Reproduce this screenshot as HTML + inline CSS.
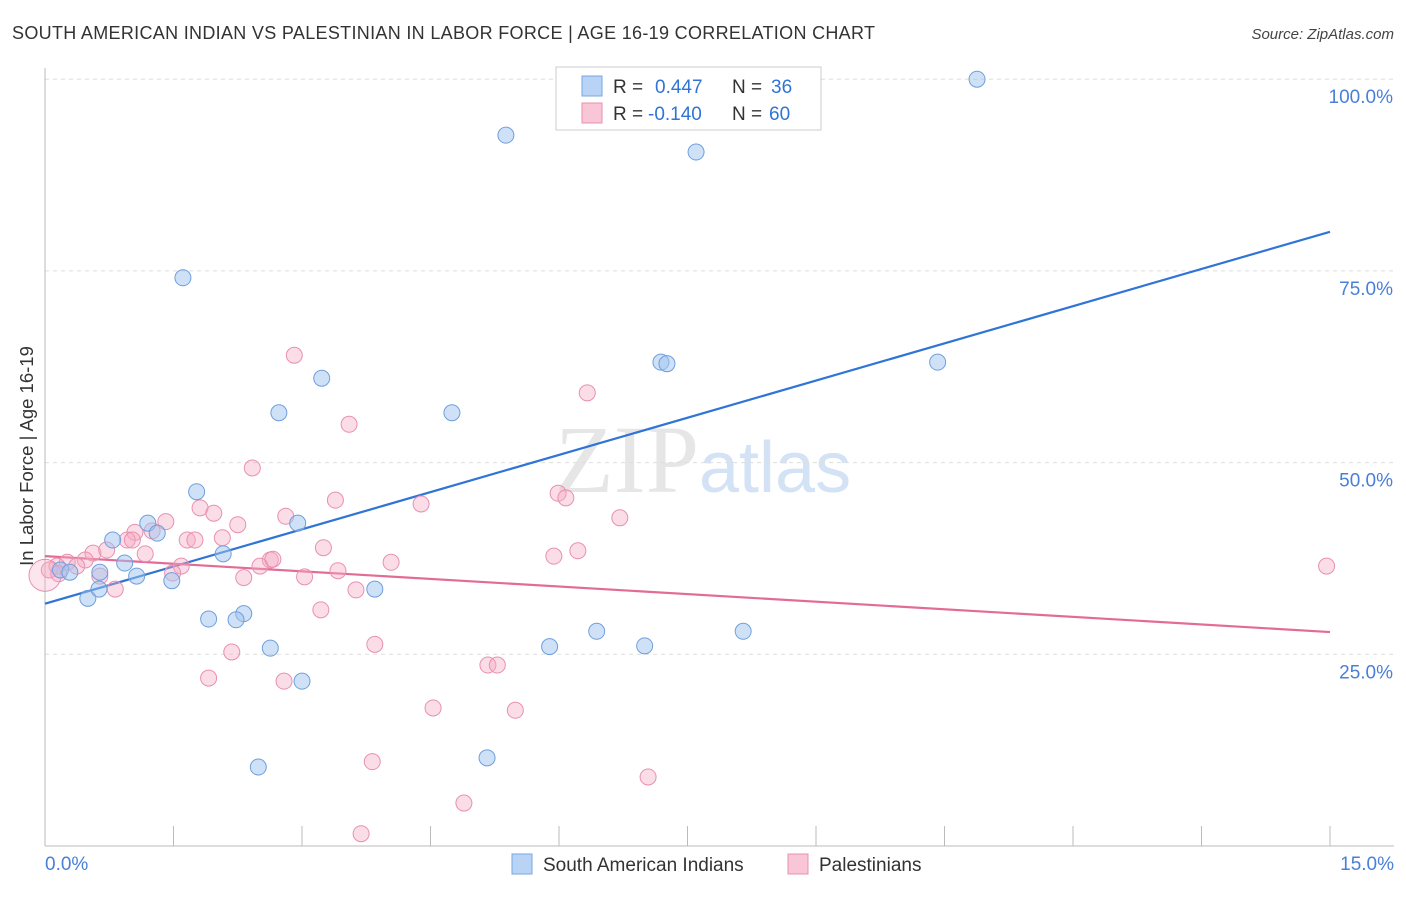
<!DOCTYPE html>
<html><head><meta charset="utf-8"><style>
body{margin:0;background:#fff;font-family:"Liberation Sans",sans-serif;}
</style></head><body>
<svg id="chart" width="1406" height="892" xmlns="http://www.w3.org/2000/svg" font-family="Liberation Sans, sans-serif">
<text x="12" y="39" font-size="18" fill="#333" textLength="863" lengthAdjust="spacing">SOUTH AMERICAN INDIAN VS PALESTINIAN IN LABOR FORCE | AGE 16-19 CORRELATION CHART</text>
<text x="1394" y="39" font-size="15" fill="#444" font-style="italic" text-anchor="end">Source: ZipAtlas.com</text>
<text x="555" y="492" font-size="96" fill="#e6e6e6" font-family="Liberation Serif, serif">ZIP<tspan fill="#d3e2f5" font-family="Liberation Sans, sans-serif" font-size="72">atlas</tspan></text>
<g id="grid"></g><g id="axes"></g><g id="lines"></g><g id="pts"></g>
<text transform="translate(33,456) rotate(-90)" font-size="18.5" fill="#333" text-anchor="middle">In Labor Force | Age 16-19</text>
<g>
<rect x="556" y="67" width="265" height="63" fill="#fff" stroke="#ccc"/>
<rect x="582" y="76" width="20" height="20" fill="#b8d3f5" stroke="#7aa7e0"/>
<rect x="582" y="103" width="20" height="20" fill="#f8c6d6" stroke="#e890b0"/>
<text x="613" y="93" font-size="19" fill="#333">R = <tspan x="655" fill="#2f74d6">0.447</tspan><tspan x="732">N = </tspan><tspan x="771" fill="#2f74d6">36</tspan></text>
<text x="613" y="120" font-size="19" fill="#333">R = <tspan x="648" fill="#2f74d6">-0.140</tspan><tspan x="732">N = </tspan><tspan x="769" fill="#2f74d6">60</tspan></text>
</g>
<g>
<rect x="512" y="854" width="20" height="20" fill="#b8d3f5" stroke="#7aa7e0"/>
<text x="543" y="871" font-size="19" fill="#333">South American Indians</text>
<rect x="788" y="854" width="20" height="20" fill="#f8c6d6" stroke="#e890b0"/>
<text x="819" y="871" font-size="19" fill="#333">Palestinians</text>
</g>
</svg>
<script>
const blueX=[10.88,5.38,7.60,1.61,3.23,2.73,4.75,7.19,7.26,10.42,1.77,1.20,1.31,2.95,0.79,2.08,0.93,1.07,1.48,0.64,0.50,0.63,0.18,0.29,3.85,2.32,2.23,1.91,2.63,3.00,2.49,5.16,5.89,6.44,7.00,8.15];
const blueY=[100.0,92.7,90.5,74.1,61.0,56.5,56.5,63.1,62.9,63.1,46.2,42.1,40.8,42.1,39.9,38.1,36.9,35.2,34.6,35.7,32.3,33.5,36.0,35.7,33.5,30.3,29.5,29.6,25.8,21.5,10.3,11.5,26.0,28.0,26.1,28.0];
const pinkX=[2.91,3.55,6.33,2.42,3.39,5.99,6.08,4.39,6.71,1.81,1.97,2.81,1.41,2.25,1.05,1.25,0.96,1.66,1.75,2.07,3.25,5.94,6.22,1.17,0.56,0.72,0.47,0.26,0.14,0.37,2.63,2.51,2.66,1.59,4.04,3.42,2.32,3.03,0.64,0.82,3.63,3.22,3.85,2.18,1.91,2.79,5.17,5.28,4.53,5.49,3.82,7.04,4.89,3.69,14.96,0.05,1.49,1.02,0.16,0.0];
const pinkY=[64.0,55.0,59.1,49.3,45.1,46.0,45.4,44.6,42.8,44.1,43.4,43.0,42.3,41.9,40.9,41.1,39.9,39.9,39.9,40.2,38.9,37.8,38.5,38.1,38.2,38.6,37.3,37.0,36.5,36.5,37.3,36.5,37.4,36.5,37.0,35.9,35.0,35.1,35.2,33.5,33.4,30.8,26.3,25.3,21.9,21.5,23.6,23.6,18.0,17.7,11.0,9.0,5.6,1.6,36.5,36.0,35.6,39.9,35.5,35.3];
const blueTrend=[31.6,80.1];
const pinkTrend=[37.8,27.9];
const yTicks=[25,50,75,100];
const yTickLabels=["25.0%","50.0%","75.0%","100.0%"];
const xTicks=[0,1.5,3,4.5,6,7.5,9,10.5,12,13.5,15];
const xLabels=["0.0%","15.0%"];
const NS="http://www.w3.org/2000/svg";
const X=v=>45+v*(1285/15), Y=v=>846-v*7.668;
function mk(t,a,p){const e=document.createElementNS(NS,t);for(const k in a)e.setAttribute(k,a[k]);p.appendChild(e);return e;}
const grid=document.getElementById('grid'),axes=document.getElementById('axes'),lines=document.getElementById('lines'),pts=document.getElementById('pts');
yTicks.forEach((t,i)=>{
 const l=mk('line',{x1:45,x2:1394,y1:Y(t),y2:Y(t),stroke:'#ddd','stroke-dasharray':'4,4'},grid);
 
 
 const tx=mk('text',{x:1393,y:Y(t)+24,'font-size':19,fill:'#4a7fd8','text-anchor':'end'},axes);tx.textContent=yTickLabels[i];
 
 
});
let ax=mk('line',{x1:45,x2:1394,y1:846,y2:846,stroke:'#bbb'},axes);


let ay=mk('line',{x1:45,x2:45,y1:68,y2:846,stroke:'#bbb'},axes);


xTicks.forEach(t=>{const l=mk('line',{x1:X(t),x2:X(t),y1:826,y2:846,stroke:'#bbb'},axes);
 
 });
[[0,'start',45],[15,'end',1394]].forEach((d,i)=>{const t=mk('text',{x:d[2],y:870,'font-size':19,fill:'#4a7fd8','text-anchor':d[1]},axes);t.textContent=xLabels[i];
 
 });
function dots(xs,ys,fill,stroke,name){xs.forEach((x,i)=>{const big=(name==='pink-point'&&i===xs.length-1);
 const c=mk('circle',{cx:X(x),cy:Y(ys[i]),r:big?16:8,fill:big?'rgba(244,170,195,0.3)':fill,stroke:stroke,'stroke-width':1},pts);
 
 });}
dots(pinkX,pinkY,'rgba(244,170,195,0.4)','#e890b0','pink-point');
dots(blueX,blueY,'rgba(160,196,240,0.5)','#6f9fdc','blue-point');
let bl=mk('line',{x1:X(0),y1:Y(blueTrend[0]),x2:X(15),y2:Y(blueTrend[1]),stroke:'#2f74d6','stroke-width':2.2},lines);


let pl=mk('line',{x1:X(0),y1:Y(pinkTrend[0]),x2:X(15),y2:Y(pinkTrend[1]),stroke:'#e36b97','stroke-width':2.2},lines);


</script>
</body></html>
